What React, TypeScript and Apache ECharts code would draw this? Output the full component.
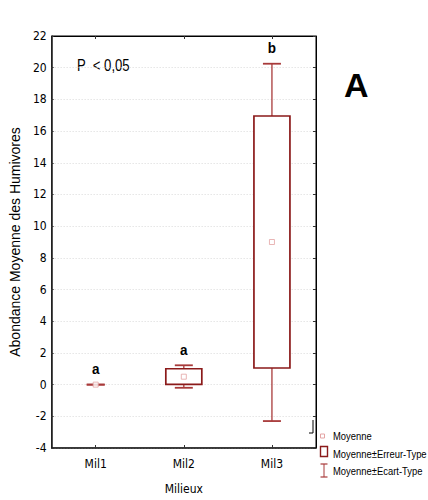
import React, { useEffect, useRef } from "react";
import * as echarts from "echarts";

const categories = ["Mil1", "Mil2", "Mil3"];
const means = [0, 0.5, 9.0];
const seLow = [0, 0.02, 1.05];
const seHigh = [0, 1.0, 16.95];
const sdLow = [0, -0.2, -2.3];
const sdHigh = [0, 1.22, 20.25];
const letters = ["a", "a", "b"];
const legendLabels = ["Moyenne", "Moyenne±Erreur-Type", "Moyenne±Ecart-Type"];

const NARROW = "'Liberation Sans Narrow', 'Arial Narrow', 'DejaVu Sans Condensed', sans-serif";
const SANS = "'Liberation Sans', Arial, sans-serif";
const BOX = "#8b1a1a";
const WHISK = "#a83a3a";
const MEAN = "#e4a4a4";

export default function App() {
  const ref = useRef<HTMLDivElement>(null);
  useEffect(() => {
    if (!ref.current) return;
    const chart = echarts.init(ref.current, null, { renderer: "svg" });
    const data = categories.map((_, i) => [i, means[i], seLow[i], seHigh[i], sdLow[i], sdHigh[i]]);
    const renderItem = (params: any, api: any) => {
      const i = api.value(0);
      const x = api.coord([i, 0])[0];
      const ySeL = api.coord([i, api.value(2)])[1];
      const ySeH = api.coord([i, api.value(3)])[1];
      const ySdL = api.coord([i, api.value(4)])[1];
      const ySdH = api.coord([i, api.value(5)])[1];
      const hb = 18;
      const cw = 9;
      const children: any[] = [];
      const lineStyle = { stroke: WHISK, lineWidth: 1.3 };
      if (Math.abs(ySdH - ySeH) > 0.5)
        children.push({ type: "line", shape: { x1: x, y1: ySdH, x2: x, y2: ySeH }, style: lineStyle });
      if (Math.abs(ySdL - ySeL) > 0.5)
        children.push({ type: "line", shape: { x1: x, y1: ySeL, x2: x, y2: ySdL }, style: lineStyle });
      children.push({ type: "line", shape: { x1: x - cw, y1: ySdH, x2: x + cw, y2: ySdH }, style: { stroke: WHISK, lineWidth: 1.8 } });
      children.push({ type: "line", shape: { x1: x - cw, y1: ySdL, x2: x + cw, y2: ySdL }, style: { stroke: WHISK, lineWidth: 1.8 } });
      if (Math.abs(ySeL - ySeH) > 0.5)
        children.push({
          type: "rect",
          shape: { x: x - hb, y: ySeH, width: hb * 2, height: ySeL - ySeH },
          style: { fill: "#ffffff", stroke: BOX, lineWidth: 1.7 },
        });
      children.push({
        type: "text",
        x: x,
        y: ySdH - 16,
        scaleX: 0.9,
        style: {
          text: letters[i],
          x: 0,
          y: 0,
          fill: "#000",
          font: "bold 15px " + SANS,
          align: "center",
          verticalAlign: "middle",
        },
      });
      return { type: "group", children };
    };

    const lx = 320;
    const option: any = {
      animation: false,
      backgroundColor: "#fff",
      grid: { left: 47, right: 112, top: 36, bottom: 52, show: true, borderColor: "#000", borderWidth: 1 },
      xAxis: [
        {
          type: "category",
          data: categories,
          position: "bottom",
          axisLine: { onZero: false, lineStyle: { color: "#222", width: 1.5 } },
          axisTick: { show: true, inside: true, alignWithLabel: true, length: 3, lineStyle: { color: "#333" } },
          axisLabel: { fontSize: 12, color: "#000", fontFamily: NARROW, margin: 10 },
          name: "Milieux",
          nameLocation: "middle",
          nameGap: 35,
          nameTextStyle: { fontSize: 12, color: "#000", fontFamily: NARROW },
          splitLine: { show: false },
        },
        {
          type: "category",
          data: categories,
          position: "top",
          axisLine: { onZero: false, lineStyle: { color: "#000", width: 1 } },
          axisTick: { show: true, inside: true, alignWithLabel: true, length: 3, lineStyle: { color: "#333" } },
          axisLabel: { show: false },
          splitLine: { show: false },
        },
      ],
      yAxis: [
        {
          type: "value",
          min: -4,
          max: 22,
          interval: 2,
          axisLine: { show: true, onZero: false, lineStyle: { color: "#222", width: 1.5 } },
          axisTick: { show: true, inside: true, length: 2, lineStyle: { color: "#333" } },
          axisLabel: { fontSize: 12, color: "#000", fontFamily: NARROW, margin: 5 },
          splitLine: { show: true, lineStyle: { color: "#d8d8d8", type: [1, 2], width: 1 } },
          name: "Abondance Moyenne des Humivores",
          nameLocation: "middle",
          nameGap: 20,
          nameTextStyle: { fontSize: 14, color: "#000", fontFamily: SANS },
        },
        {
          type: "value",
          min: -4,
          max: 22,
          interval: 2,
          position: "right",
          axisLine: { show: true, onZero: false, lineStyle: { color: "#000", width: 1 } },
          axisTick: { show: true, inside: true, length: 3, lineStyle: { color: "#333" } },
          axisLabel: { show: false },
          splitLine: { show: false },
        },
      ],
      series: [
        {
          type: "custom",
          renderItem,
          data,
          encode: { x: 0, y: [1, 2, 3, 4, 5] },
          z: 3,
        },
        {
          type: "scatter",
          data: categories.map((c, i) => [i, means[i]]),
          symbol: "rect",
          symbolSize: 5,
          itemStyle: { color: "#fff", borderColor: MEAN, borderWidth: 1 },
          z: 4,
        },
      ],
      graphic: [
        {
          type: "text",
          x: 77,
          y: 66,
          scaleX: 0.82,
          style: { text: "P  < 0,05", x: 0, y: 0, fill: "#000", font: "16px " + SANS, verticalAlign: "middle" },
        },
        {
          type: "text",
          x: 344,
          y: 85,
          style: { text: "A", x: 0, y: 0, fill: "#000", font: "bold 34px " + SANS, verticalAlign: "middle" },
        },
        {
          type: "polyline",
          shape: { points: [[313, 420], [313, 433], [309, 433]] },
          style: { stroke: "#000", lineWidth: 1, fill: "none" },
        },
        {
          type: "rect",
          shape: { x: lx + 0.5, y: 434, width: 4, height: 4 },
          style: { fill: "#fff", stroke: MEAN, lineWidth: 1 },
        },
        {
          type: "rect",
          shape: { x: lx + 0.5, y: 446.5, width: 7, height: 10 },
          style: { fill: "#fff", stroke: BOX, lineWidth: 1.4 },
        },
        {
          type: "line",
          shape: { x1: lx + 4, y1: 464, x2: lx + 4, y2: 477 },
          style: { stroke: WHISK, lineWidth: 1 },
        },
        {
          type: "line",
          shape: { x1: lx + 0.5, y1: 464, x2: lx + 7.5, y2: 464 },
          style: { stroke: WHISK, lineWidth: 1.2 },
        },
        {
          type: "line",
          shape: { x1: lx + 0.5, y1: 477, x2: lx + 7.5, y2: 477 },
          style: { stroke: WHISK, lineWidth: 1.2 },
        },
        ...legendLabels.map((t, i) => ({
          type: "text",
          x: 333,
          y: 436 + i * 17.5,
          scaleX: 0.82,
          style: { text: t, x: 0, y: 0, fill: "#000", font: "11.5px " + SANS, verticalAlign: "middle" },
        })),
      ],
    };
    chart.setOption(option);
    return () => chart.dispose();
  }, []);
  return (
    <div
      ref={ref}
      style={{ position: "fixed", left: 0, top: 0, width: 428, height: 500, background: "#fff" }}
    />
  );
}
